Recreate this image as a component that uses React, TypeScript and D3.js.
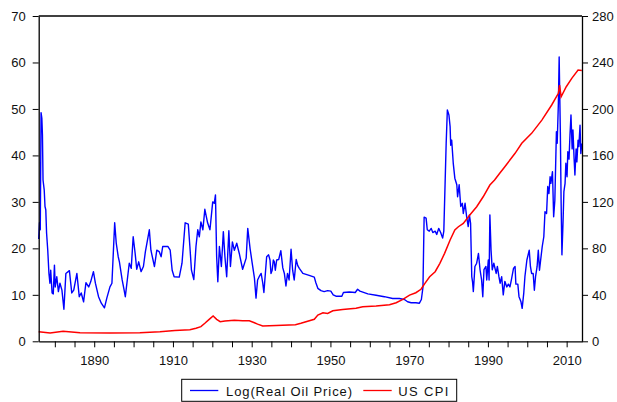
import React, { useEffect, useRef } from 'react';
import * as d3 from 'd3';

// [year, value]
const oilPrice: [number, number][] = [
  [1875.9, 22.0], [1876.1, 25.5], [1876.3, 24.0], [1876.5, 49.2], [1876.7, 48.0], [1876.85, 44.5],
  [1877.0, 34.7], [1877.3, 32.6], [1877.5, 29.0], [1877.7, 28.3], [1877.9, 23.3], [1878.2, 19.6],
  [1878.5, 14.6], [1878.75, 12.5], [1878.95, 15.3], [1879.3, 10.4], [1879.6, 10.2], [1879.9, 16.4],
  [1880.1, 11.7], [1880.5, 13.9], [1880.9, 10.7], [1881.3, 12.5], [1881.8, 11.0], [1882.3, 6.9],
  [1882.8, 14.6], [1883.7, 15.2], [1884.3, 10.4], [1884.8, 11.0], [1885.6, 14.6], [1886.2, 9.6],
  [1886.7, 10.4], [1887.3, 8.5], [1887.9, 12.6], [1888.6, 11.7], [1889.1, 12.8], [1889.8, 15.0],
  [1890.3, 12.5], [1891.1, 9.6], [1891.8, 8.2], [1892.6, 7.2], [1893.2, 9.3], [1894.0, 11.7],
  [1894.5, 12.5], [1895.2, 25.5], [1895.6, 21.1], [1896.1, 18.2], [1896.4, 17.1], [1897.1, 13.2],
  [1897.6, 11.0], [1897.9, 9.6], [1898.4, 13.2], [1898.9, 16.8], [1899.4, 15.7], [1899.9, 22.5],
  [1900.4, 18.9], [1900.8, 15.5], [1901.3, 17.1], [1901.9, 15.0], [1902.5, 16.1], [1903.0, 19.3],
  [1904.0, 24.0], [1904.4, 19.6], [1905.3, 16.1], [1905.9, 19.6], [1906.5, 19.3], [1907.0, 18.2],
  [1907.4, 20.4], [1908.7, 20.4], [1909.3, 19.6], [1909.8, 15.3], [1910.3, 13.9], [1911.6, 13.8],
  [1912.3, 16.8], [1913.1, 25.5], [1913.9, 25.2], [1914.3, 20.4], [1914.7, 15.3], [1915.3, 13.3],
  [1915.85, 20.4], [1916.3, 24.0], [1916.7, 22.5], [1917.1, 25.7], [1917.6, 24.0], [1918.1, 28.4],
  [1918.8, 25.5], [1919.4, 24.0], [1920.1, 30.0], [1920.5, 29.7], [1920.8, 31.5], [1921.1, 18.2],
  [1921.4, 12.8], [1921.8, 20.4], [1922.3, 16.1], [1922.8, 23.6], [1923.2, 18.2], [1923.65, 13.9],
  [1924.2, 23.8], [1924.6, 16.1], [1925.1, 21.4], [1925.6, 19.6], [1926.2, 21.1], [1926.85, 18.9],
  [1927.7, 15.5], [1928.6, 17.9], [1929.0, 24.3], [1929.6, 19.9], [1930.1, 17.0], [1930.7, 13.6],
  [1931.1, 9.3], [1931.5, 13.2], [1931.9, 13.9], [1932.4, 14.6], [1932.8, 12.6], [1933.1, 10.5],
  [1933.8, 18.2], [1934.3, 18.6], [1934.65, 17.5], [1934.9, 14.6], [1935.2, 15.3], [1935.5, 17.5],
  [1935.75, 17.1], [1936.0, 15.3], [1936.35, 17.5], [1936.86, 17.6], [1937.4, 19.5], [1937.9, 15.8],
  [1938.3, 14.6], [1938.7, 11.9], [1939.1, 14.6], [1939.5, 13.2], [1940.0, 19.8], [1940.4, 15.3],
  [1940.8, 13.2], [1941.3, 17.6], [1941.7, 16.3], [1942.1, 15.7], [1943.0, 14.6], [1944.6, 14.2],
  [1945.9, 13.8], [1946.3, 12.6], [1946.8, 11.4], [1947.6, 10.9], [1948.4, 10.7], [1949.3, 10.9],
  [1950.1, 10.8], [1950.7, 10.0], [1951.4, 9.7], [1952.9, 9.7], [1953.3, 10.5], [1954.8, 10.6],
  [1956.3, 10.5], [1956.9, 11.2], [1957.5, 10.8], [1959.5, 10.2], [1961.6, 9.9], [1963.7, 9.6],
  [1965.8, 9.2], [1967.5, 9.2], [1968.8, 9.0], [1969.6, 8.5], [1970.5, 8.3], [1971.7, 8.3],
  [1972.6, 8.2], [1973.1, 9.0], [1973.5, 11.6], [1973.8, 26.7], [1974.3, 26.5], [1974.6, 24.0],
  [1975.1, 23.7], [1975.6, 24.3], [1976.0, 23.4], [1976.6, 23.7], [1977.0, 23.0], [1977.5, 24.3],
  [1978.0, 23.4], [1978.5, 22.2], [1978.8, 23.7], [1979.4, 42.6], [1979.7, 49.8], [1980.1, 48.7],
  [1980.4, 46.2], [1980.55, 42.2], [1980.8, 43.3], [1981.2, 38.3], [1981.6, 35.1], [1982.1, 33.7],
  [1982.3, 31.1], [1982.7, 33.7], [1983.1, 29.0], [1983.5, 29.7], [1983.75, 27.5], [1984.2, 29.7],
  [1984.6, 26.8], [1985.0, 24.7], [1985.3, 27.2], [1985.6, 25.4], [1985.9, 13.9], [1986.1, 12.8],
  [1986.3, 10.7], [1986.7, 16.1], [1987.15, 16.8], [1987.6, 18.9], [1988.0, 15.4], [1988.4, 13.2],
  [1988.7, 9.6], [1989.0, 15.4], [1989.5, 16.1], [1989.7, 13.2], [1990.1, 17.5], [1990.3, 13.2],
  [1990.5, 27.2], [1990.8, 19.6], [1991.1, 15.4], [1991.5, 16.8], [1992.1, 14.6], [1992.4, 16.1],
  [1992.8, 13.9], [1993.1, 12.5], [1993.5, 13.9], [1993.9, 10.0], [1994.3, 12.9], [1994.8, 11.7],
  [1995.2, 12.3], [1995.6, 11.7], [1996.0, 13.4], [1996.5, 15.7], [1996.9, 16.1], [1997.1, 12.3],
  [1997.6, 12.3], [1997.9, 9.6], [1998.4, 8.5], [1998.7, 7.1], [1999.1, 10.3], [1999.4, 13.9],
  [1999.9, 17.5], [2000.3, 18.9], [2000.5, 19.6], [2000.8, 16.1], [2001.1, 14.6], [2001.5, 14.6],
  [2001.8, 11.0], [2002.1, 13.9], [2002.5, 16.1], [2002.8, 19.6], [2003.1, 15.3], [2003.4, 17.5],
  [2003.8, 20.4], [2004.2, 22.5], [2004.5, 27.9], [2004.9, 27.5], [2005.2, 33.3], [2005.5, 31.8],
  [2005.8, 35.4], [2006.0, 34.0], [2006.4, 36.5], [2006.7, 26.8], [2007.0, 30.3], [2007.4, 45.1],
  [2007.6, 42.6], [2007.9, 51.2], [2008.1, 61.2], [2008.4, 45.0], [2008.6, 29.7], [2008.8, 18.6],
  [2009.1, 26.1], [2009.3, 32.2], [2009.6, 34.0], [2009.8, 38.3], [2010.1, 35.4], [2010.3, 40.8],
  [2010.6, 39.2], [2010.85, 44.4], [2011.1, 48.7], [2011.4, 41.4], [2011.6, 45.5], [2011.9, 39.2],
  [2012.1, 35.8], [2012.4, 41.4], [2012.6, 38.6], [2012.9, 43.3], [2013.1, 41.9], [2013.4, 46.5],
  [2013.6, 40.4], [2013.85, 42.6],
];

const usCpi: [number, number][] = [
  [1875.9, 8.3], [1878.8, 7.1], [1882.1, 8.6], [1886.4, 7.3], [1894.0, 7.1], [1901.6, 7.4],
  [1906.7, 8.3], [1910.5, 9.4], [1914.3, 10.0], [1915.85, 11.2], [1917.1, 12.6], [1918.1, 15.5],
  [1919.2, 18.9], [1920.2, 21.8], [1921.1, 18.9], [1922.0, 16.9], [1923.2, 17.4], [1925.6, 18.1],
  [1927.7, 17.6], [1929.4, 17.6], [1930.7, 16.0], [1931.5, 14.8], [1932.8, 13.2], [1936.2, 13.6],
  [1941.1, 14.3], [1942.5, 15.5], [1945.9, 18.9], [1946.8, 22.6], [1948.1, 24.6], [1949.3, 24.0],
  [1950.6, 26.3], [1953.1, 27.4], [1956.5, 28.4], [1958.2, 29.8], [1961.6, 30.4], [1965.0, 31.5],
  [1966.7, 33.2], [1968.4, 36.1], [1970.1, 39.8], [1971.7, 41.8], [1973.0, 44.8], [1974.0, 49.9],
  [1975.2, 55.6], [1976.6, 59.9], [1977.8, 67.1], [1979.0, 75.7], [1980.4, 87.2], [1981.6, 95.8],
  [1982.5, 98.6], [1983.75, 101.5], [1985.4, 108.7], [1987.15, 115.8], [1988.8, 124.4], [1990.5, 134.5],
  [1991.7, 138.8], [1993.0, 144.6], [1994.3, 150.3], [1996.9, 161.8], [1998.6, 170.4], [2001.1, 179.0],
  [2003.7, 190.4], [2006.2, 203.4], [2007.9, 213.4], [2008.2, 220.6], [2008.6, 210.5], [2009.9, 219.1],
  [2011.3, 226.3], [2012.9, 233.5], [2013.85, 233.0],
];

const yearLabels = [1890, 1910, 1930, 1950, 1970, 1990, 2010];
const yearTicks = [1880, 1885, 1890, 1895, 1900, 1905, 1910, 1915, 1920, 1925, 1930, 1935, 1940,
  1945, 1950, 1955, 1960, 1965, 1970, 1975, 1980, 1985, 1990, 1995, 2000, 2005, 2010];
const leftTicks = [0, 10, 20, 30, 40, 50, 60, 70];
const rightTicks = [0, 40, 80, 120, 160, 200, 240, 280];
const seriesNames = ['Log(Real Oil Price)', 'US CPI'];
const seriesColors = ['#0000ff', '#ff0000'];

const W = 617, H = 402;
const left = 38.7, right = 582, top = 16, bottom = 341.3;
const font = '"Liberation Sans", Arial, sans-serif';

function App() {
  const ref = useRef<SVGSVGElement>(null);

  useEffect(() => {
    const svg = d3.select(ref.current);
    svg.selectAll('*').remove();

    const x = d3.scaleLinear().domain([1875.9, 2013.9]).range([left, right]);
    const yL = d3.scaleLinear().domain([0, 70]).range([bottom, top]);
    const yR = d3.scaleLinear().domain([0, 280]).range([bottom, top]);

    // series (red drawn on top, as in the original)
    const oilLine = d3.line<[number, number]>().x(d => x(d[0])).y(d => yL(d[1]));
    const cpiLine = d3.line<[number, number]>().x(d => x(d[0])).y(d => yR(d[1]));

    svg.append('path')
      .attr('d', oilLine(oilPrice))
      .attr('fill', 'none')
      .attr('stroke', seriesColors[0])
      .attr('stroke-width', 1.4)
      .attr('stroke-linejoin', 'round');

    svg.append('path')
      .attr('d', cpiLine(usCpi))
      .attr('fill', 'none')
      .attr('stroke', seriesColors[1])
      .attr('stroke-width', 1.5);

    // frame top
    svg.append('line')
      .attr('x1', left).attr('x2', right)
      .attr('y1', top).attr('y2', top)
      .attr('stroke', '#000').attr('stroke-width', 1.3);

    const styleAxis = (g: any) => {
      g.select('.domain').attr('stroke', '#000').attr('stroke-width', 1.3);
      g.selectAll('.tick line').attr('stroke', '#000').attr('stroke-width', 1);
      g.selectAll('text')
        .attr('font-family', font)
        .attr('font-size', 13)
        .attr('fill', '#111');
    };

    const xAxis = d3.axisBottom(x)
      .tickValues(yearTicks)
      .tickSize(6)
      .tickSizeOuter(0)
      .tickPadding(8)
      .tickFormat(d => (yearLabels.includes(+d) ? String(d) : ''));
    svg.append('g')
      .attr('transform', `translate(0,${bottom})`)
      .call(xAxis)
      .call(styleAxis);

    const leftAxis = d3.axisLeft(yL)
      .tickValues(leftTicks)
      .tickSize(6)
      .tickSizeOuter(0)
      .tickPadding(7)
      .tickFormat(d3.format('d'));
    svg.append('g')
      .attr('transform', `translate(${left},0)`)
      .call(leftAxis)
      .call(styleAxis);

    const rightAxis = d3.axisRight(yR)
      .tickValues(rightTicks)
      .tickSize(6)
      .tickSizeOuter(0)
      .tickPadding(4)
      .tickFormat(d3.format('d'));
    svg.append('g')
      .attr('transform', `translate(${right},0)`)
      .call(rightAxis)
      .call(styleAxis);

    // legend
    const lg = svg.append('g');
    lg.append('rect')
      .attr('x', 181.7).attr('y', 379.3)
      .attr('width', 275).attr('height', 22)
      .attr('fill', '#fff').attr('stroke', '#000').attr('stroke-width', 1);
    const items = [
      { x1: 190, x2: 218.3, tx: 226, tw: 126 },
      { x1: 363.3, x2: 391.7, tx: 398.3, tw: 50 },
    ];
    items.forEach((it, i) => {
      lg.append('line')
        .attr('x1', it.x1).attr('x2', it.x2)
        .attr('y1', 390.5).attr('y2', 390.5)
        .attr('stroke', seriesColors[i]).attr('stroke-width', 1.3);
      lg.append('text')
        .attr('x', it.tx).attr('y', 395.5)
        .attr('font-family', font).attr('font-size', 13)
        .attr('fill', '#111')
        .attr('textLength', it.tw)
        .attr('lengthAdjust', 'spacing')
        .text(seriesNames[i]);
    });
  }, []);

  return (
    <svg
      ref={ref}
      width={W}
      height={H}
      style={{ position: 'absolute', left: 0, top: 0, background: '#fff' }}
    ></svg>
  );
}

export default App;
